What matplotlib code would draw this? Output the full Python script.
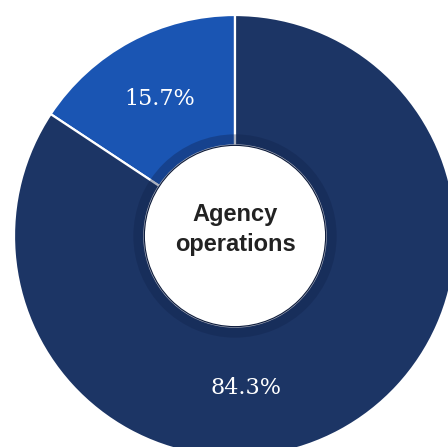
import matplotlib.pyplot as plt
from matplotlib.patches import Circle, Wedge

labels = ['Other', 'Agency operations']
shares = [15.7, 84.3]
colors = ['#1a55b3', '#1c3565']
center_text = 'Agency\noperations'

fig = plt.figure(figsize=(4.48, 4.47), dpi=100)
ax = fig.add_axes([0, 0, 1, 1])

wedges, _ = ax.pie(shares, colors=colors, startangle=90, counterclock=True,
                   radius=1.0,
                   wedgeprops=dict(width=1.0 - 0.41, edgecolor='white', linewidth=1.6))

# soft dark band round the hole
ax.add_patch(Wedge((0, 0), 0.46, 0, 360, width=0.06, facecolor='#10214a',
                   alpha=0.35, linewidth=0))
ax.add_patch(Circle((0, 0), 0.41, facecolor='white', edgecolor='#0e1c3c', linewidth=0.8))

# value labels
ax.text(-0.34, 0.62, f'{shares[0]}%', ha='center', va='center', color='white',
        fontsize=16, family='DejaVu Serif')
ax.text(0.05, -0.69, f'{shares[1]}%', ha='center', va='center', color='white',
        fontsize=16, family='DejaVu Serif')

ax.text(0.0, 0.03, center_text, ha='center', va='center', color='#222222',
        fontsize=17, fontweight='bold', family='Liberation Sans', linespacing=1.4)

ax.set_aspect('auto')
ax.set_xlim(-235 / 221, 213 / 221)
ax.set_ylim(-211 / 221, 236 / 221)
ax.axis('off')

fig.savefig('out.png', dpi=100, facecolor='white')
